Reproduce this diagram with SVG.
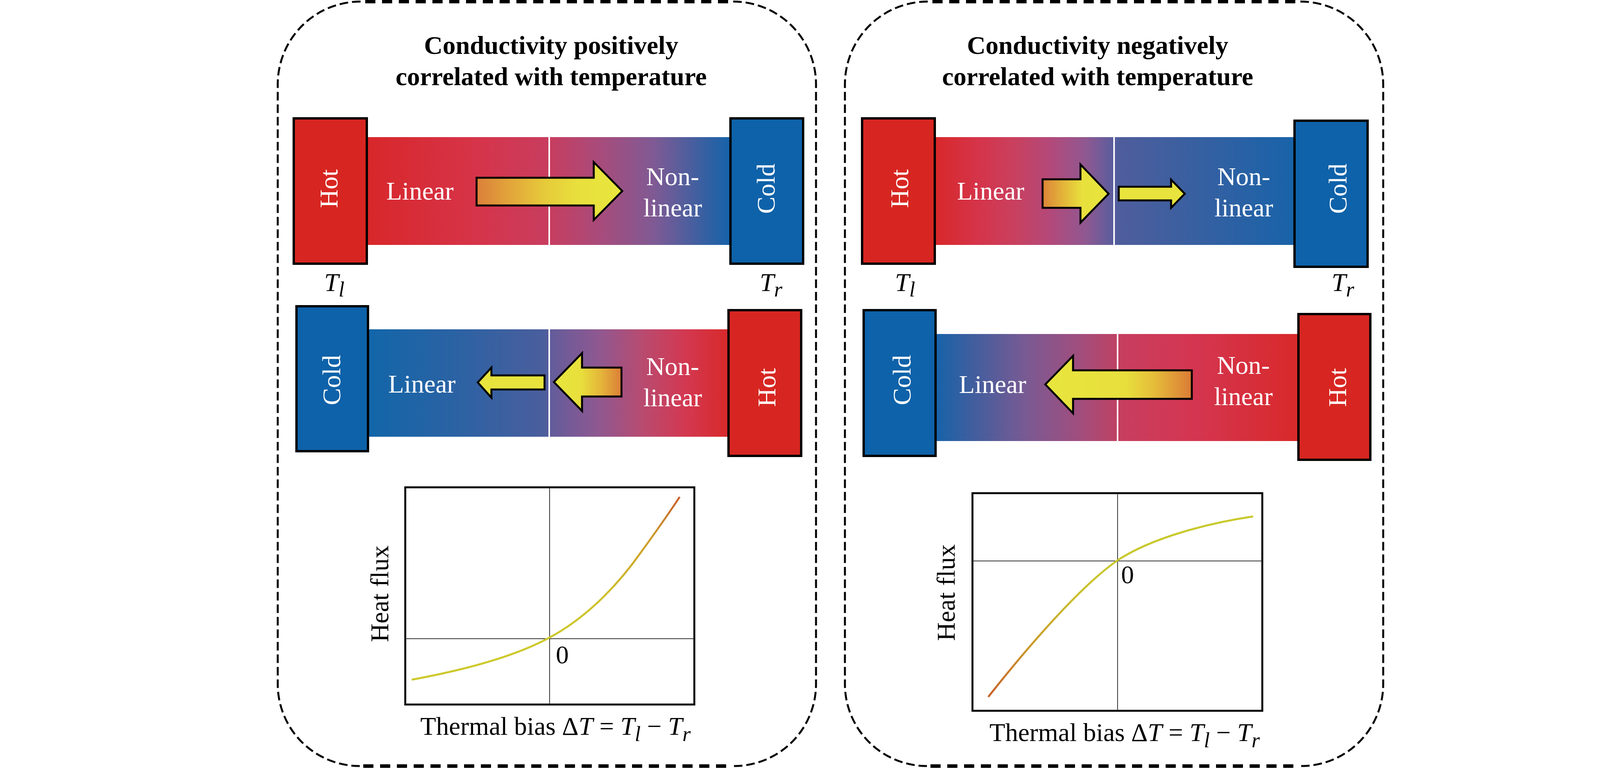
<svg xmlns="http://www.w3.org/2000/svg" width="4252" height="1966" viewBox="0 0 4252 1966">
<style>
.t{font-family:"Liberation Serif","Times New Roman",serif;font-size:66px;fill:#000}
.b{font-weight:bold}
.w{fill:#fff}
.i{font-style:italic}
.sub{font-size:54px;font-style:italic}
.blk{stroke:#000;stroke-width:6}
.hot{fill:#d72621}
.cold{fill:#0e62a9}
.arr{stroke:#000;stroke-width:5;stroke-linejoin:miter}
.yel{fill:#e8e43d}
.side{fill:none;stroke:#000;stroke-width:5;stroke-dasharray:22 10}
.edge{fill:none;stroke:#000;stroke-width:9;stroke-dasharray:26 17}
.div{stroke:#fff;stroke-width:4}
.frame{fill:#fff;stroke:#000;stroke-width:5}
.axis{stroke:#333;stroke-width:2}
.curve{fill:none;stroke-width:5;stroke-linecap:butt}
</style>
<defs>
<linearGradient id="gA" x1="0" y1="0" x2="1" y2="0">
<stop offset="0" stop-color="#d8272a"/><stop offset="0.3" stop-color="#d63449"/><stop offset="0.5" stop-color="#c83d5f"/><stop offset="0.64" stop-color="#a84b7b"/><stop offset="0.79" stop-color="#7f5a94"/><stop offset="0.93" stop-color="#3660a2"/><stop offset="1" stop-color="#1563a9"/>
</linearGradient>
<linearGradient id="gB" x1="0" y1="0" x2="1" y2="0">
<stop offset="0" stop-color="#1266a9"/><stop offset="0.26" stop-color="#2d62a3"/><stop offset="0.49" stop-color="#4b5e9d"/><stop offset="0.51" stop-color="#655c9b"/><stop offset="0.64" stop-color="#8f5890"/><stop offset="0.76" stop-color="#b84b70"/><stop offset="0.88" stop-color="#d33851"/><stop offset="1" stop-color="#d8292a"/>
</linearGradient>
<linearGradient id="gC" x1="0" y1="0" x2="1" y2="0">
<stop offset="0" stop-color="#d8282a"/><stop offset="0.12" stop-color="#d5344a"/><stop offset="0.22" stop-color="#c9405e"/><stop offset="0.32" stop-color="#b3497a"/><stop offset="0.42" stop-color="#8f5891"/><stop offset="0.5" stop-color="#575e9e"/><stop offset="0.51" stop-color="#4f5d9c"/><stop offset="0.74" stop-color="#3660a1"/><stop offset="1" stop-color="#1863a9"/>
</linearGradient>
<linearGradient id="gD" x1="0" y1="0" x2="1" y2="0">
<stop offset="0" stop-color="#1763a9"/><stop offset="0.1" stop-color="#405e9e"/><stop offset="0.25" stop-color="#7a5a93"/><stop offset="0.4" stop-color="#a24d7d"/><stop offset="0.49" stop-color="#bc4366"/><stop offset="0.51" stop-color="#c73e5f"/><stop offset="0.7" stop-color="#d43652"/><stop offset="1" stop-color="#d8292a"/>
</linearGradient>
<linearGradient id="aR1" gradientUnits="userSpaceOnUse" x1="1220" y1="0" x2="1593" y2="0">
<stop offset="0" stop-color="#db7f3a"/><stop offset="0.22" stop-color="#e2a43a"/><stop offset="0.48" stop-color="#e6cc3a"/><stop offset="0.7" stop-color="#e8e03d"/><stop offset="1" stop-color="#e8e63e"/>
</linearGradient>
<linearGradient id="aL1" gradientUnits="userSpaceOnUse" x1="1418" y1="0" x2="1591" y2="0">
<stop offset="0" stop-color="#e8e63e"/><stop offset="0.4" stop-color="#e8df3c"/><stop offset="0.7" stop-color="#e4b43a"/><stop offset="1" stop-color="#dc7e37"/>
</linearGradient>
<linearGradient id="aR2" gradientUnits="userSpaceOnUse" x1="2669" y1="0" x2="2838" y2="0">
<stop offset="0" stop-color="#dc8438"/><stop offset="0.3" stop-color="#e3b33a"/><stop offset="0.6" stop-color="#e8e03c"/><stop offset="1" stop-color="#e8e63e"/>
</linearGradient>
<linearGradient id="aL2" gradientUnits="userSpaceOnUse" x1="2676" y1="0" x2="3051" y2="0">
<stop offset="0" stop-color="#e8e63e"/><stop offset="0.55" stop-color="#e8df3c"/><stop offset="0.75" stop-color="#e5bb3a"/><stop offset="1" stop-color="#db7b36"/>
</linearGradient>
<linearGradient id="cL" gradientUnits="userSpaceOnUse" x1="1407" y1="1633" x2="1740" y2="1272">
<stop offset="0" stop-color="#cdc92b"/><stop offset="0.4" stop-color="#cdbf2b"/><stop offset="0.75" stop-color="#cc9a2b"/><stop offset="1" stop-color="#c8602a"/>
</linearGradient>
<linearGradient id="cR" gradientUnits="userSpaceOnUse" x1="2530" y1="1784" x2="2860" y2="1435">
<stop offset="0" stop-color="#c8602a"/><stop offset="0.35" stop-color="#c99a2a"/><stop offset="0.7" stop-color="#c9be2a"/><stop offset="1" stop-color="#c8c82b"/>
</linearGradient>
</defs>
<rect width="4252" height="1966" fill="#fff"/>

<g id="panel-left">
<path class="side" d="M 923,4 A 212 212 0 0 0 711,216 L 711,1751 A 210 210 0 0 0 921,1961"/>
<path class="side" d="M 1877,4 A 212 212 0 0 1 2089,216 L 2089,1751 A 210 210 0 0 1 1879,1961"/>
<path class="edge" d="M 935,4 H 1870"/>
<path class="edge" d="M 930,1961 H 1870"/>
<text class="t b" x="1411" y="138" text-anchor="middle">Conductivity positively</text>
<text class="t b" x="1411" y="218" text-anchor="middle">correlated with temperature</text>
</g>

<g id="panel-right">
<path class="side" d="M 2375,4 A 212 212 0 0 0 2163,216 L 2163,1751 A 210 210 0 0 0 2373,1961"/>
<path class="side" d="M 3329,4 A 212 212 0 0 1 3541,216 L 3541,1751 A 210 210 0 0 1 3331,1961"/>
<path class="edge" d="M 2387,4 H 3322"/>
<path class="edge" d="M 2382,1961 H 3322"/>
<text class="t b" x="2810" y="138" text-anchor="middle">Conductivity negatively</text>
<text class="t b" x="2810" y="218" text-anchor="middle">correlated with temperature</text>
</g>

<g id="bar-left-top">
<rect x="940" y="351" width="930" height="276" fill="url(#gA)"/>
<line class="div" x1="1406" y1="351" x2="1406" y2="627"/>
<text class="t w" x="989" y="511">Linear</text>
<text class="t w" x="1722" y="474" text-anchor="middle">Non-</text>
<text class="t w" x="1722" y="554" text-anchor="middle">linear</text>
</g>
<g id="bar-left-bottom">
<rect x="943" y="843" width="922" height="275" fill="url(#gB)"/>
<line class="div" x1="1406" y1="843" x2="1406" y2="1118"/>
<text class="t w" x="994" y="1005">Linear</text>
<text class="t w" x="1722" y="960" text-anchor="middle">Non-</text>
<text class="t w" x="1722" y="1040" text-anchor="middle">linear</text>
</g>
<g id="bar-right-top">
<rect x="2394" y="351" width="920" height="276" fill="url(#gC)"/>
<line class="div" x1="2852" y1="351" x2="2852" y2="627"/>
<text class="t w" x="2450" y="511">Linear</text>
<text class="t w" x="3184" y="474" text-anchor="middle">Non-</text>
<text class="t w" x="3184" y="554" text-anchor="middle">linear</text>
</g>
<g id="bar-right-bottom">
<rect x="2396" y="855" width="928" height="274" fill="url(#gD)"/>
<line class="div" x1="2861" y1="855" x2="2861" y2="1129"/>
<text class="t w" x="2455" y="1006">Linear</text>
<text class="t w" x="3183" y="957" text-anchor="middle">Non-</text>
<text class="t w" x="3183" y="1037" text-anchor="middle">linear</text>
</g>

<g id="connectors">
<polygon class="arr" fill="url(#aR1)" points="1220,455 1520,455 1520,415 1593,489 1520,563 1520,526 1220,526"/>
<polygon class="arr yel" points="1394,961 1258,961 1258,941 1223,979 1258,1018 1258,997 1394,997"/>
<polygon class="arr" fill="url(#aL1)" points="1591,941 1490,941 1490,904 1418,978 1490,1052 1490,1015 1591,1015"/>
<polygon class="arr" fill="url(#aR2)" points="2669,459 2766,459 2766,421 2838,496 2766,570 2766,532 2669,532"/>
<polygon class="arr yel" points="2864,478 2998,478 2998,460 3033,496 2998,532 2998,513 2864,513"/>
<polygon class="arr" fill="url(#aL2)" points="3051,948 2747,948 2747,911 2676,984 2747,1058 2747,1021 3051,1021"/>
</g>

<g id="hot-tl"><rect class="blk hot" x="752" y="303" width="187" height="372"/><text class="t w" transform="translate(864,483) rotate(-90)" text-anchor="middle">Hot</text></g>
<g id="cold-tl"><rect class="blk cold" x="1870" y="303" width="186" height="372"/><text class="t w" transform="translate(1983,483) rotate(-90)" text-anchor="middle">Cold</text></g>
<g id="cold-bl"><rect class="blk cold" x="759" y="784" width="183" height="371"/><text class="t w" transform="translate(871,973) rotate(-90)" text-anchor="middle">Cold</text></g>
<g id="hot-bl"><rect class="blk hot" x="1865" y="794" width="186" height="373"/><text class="t w" transform="translate(1985,992) rotate(-90)" text-anchor="middle">Hot</text></g>
<g id="hot-tr"><rect class="blk hot" x="2207" y="303" width="186" height="372"/><text class="t w" transform="translate(2325,483) rotate(-90)" text-anchor="middle">Hot</text></g>
<g id="cold-tr"><rect class="blk cold" x="3314" y="309" width="187" height="374"/><text class="t w" transform="translate(3447,483) rotate(-90)" text-anchor="middle">Cold</text></g>
<g id="cold-br"><rect class="blk cold" x="2211" y="794" width="184" height="373"/><text class="t w" transform="translate(2331,973) rotate(-90)" text-anchor="middle">Cold</text></g>
<g id="hot-br"><rect class="blk hot" x="3324" y="804" width="184" height="373"/><text class="t w" transform="translate(3446,992) rotate(-90)" text-anchor="middle">Hot</text></g>

<g id="temp-labels">
<text class="t i" x="830" y="745">T<tspan class="sub" dy="14">l</tspan></text>
<text class="t i" x="1945" y="745">T<tspan class="sub" dy="14">r</tspan></text>
<text class="t i" x="2291" y="745">T<tspan class="sub" dy="14">l</tspan></text>
<text class="t i" x="3409" y="745">T<tspan class="sub" dy="14">r</tspan></text>
</g>

<g id="plot-left">
<rect class="frame" x="1037.5" y="1247.5" width="740" height="556"/>
<line class="axis" x1="1407" y1="1249" x2="1407" y2="1802"/>
<line class="axis" x1="1039" y1="1635" x2="1776" y2="1635"/>
<path class="curve" stroke="url(#cL)" d="M 1054,1740 C 1150,1722 1300,1690 1407,1632 C 1500,1582 1580,1500 1640,1415 C 1680,1360 1715,1310 1740,1272"/>
<text class="t" x="1423" y="1698">0</text>
<text class="t" transform="translate(994,1520) rotate(-90)" text-anchor="middle">Heat flux</text>
<text class="t" x="1076" y="1881">Thermal bias Δ<tspan class="i">T</tspan> = <tspan class="i">T</tspan><tspan class="sub" dy="16">l</tspan><tspan dy="-16"> − </tspan><tspan class="i">T</tspan><tspan class="sub" dy="16">r</tspan></text>
</g>

<g id="plot-right">
<rect class="frame" x="2489.5" y="1262.5" width="742" height="557"/>
<line class="axis" x1="2861" y1="1264" x2="2861" y2="1818"/>
<line class="axis" x1="2491" y1="1436" x2="3230" y2="1436"/>
<path class="curve" stroke="url(#cR)" d="M 2530,1784 C 2620,1670 2760,1505 2860,1435 C 2950,1375 3100,1338 3208,1322"/>
<text class="t" x="2870" y="1493">0</text>
<text class="t" transform="translate(2444,1517) rotate(-90)" text-anchor="middle">Heat flux</text>
<text class="t" x="2533" y="1897">Thermal bias Δ<tspan class="i">T</tspan> = <tspan class="i">T</tspan><tspan class="sub" dy="16">l</tspan><tspan dy="-16"> − </tspan><tspan class="i">T</tspan><tspan class="sub" dy="16">r</tspan></text>
</g>
</svg>
